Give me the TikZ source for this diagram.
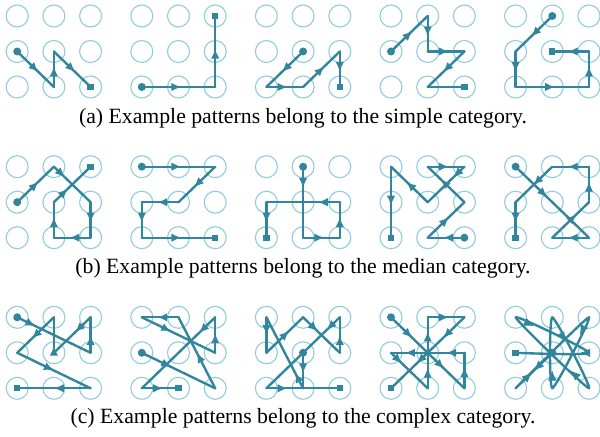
\documentclass[tikz,border=0pt]{standalone}
\usepackage{fontspec}
\setmainfont{Liberation Serif}
\usetikzlibrary{arrows.meta,decorations.markings}
\definecolor{ringblue}{HTML}{92CDDC}
\definecolor{pathteal}{HTML}{31859C}

\tikzset{
  ring/.style={circle, draw=ringblue, line width=0.45pt, minimum size=8.8pt, inner sep=0pt},
  pline/.style={draw=pathteal, line width=0.95pt, line cap=round, line join=round},
  tipat/.style={postaction={decorate}, decoration={markings,
    mark=at position #1 with {\arrow[pathteal]{Latex[length=4pt,width=3.4pt]}}}},
  tipat/.default=0.58,
  startdot/.style={circle, fill=pathteal, inner sep=0pt, minimum size=3.2pt},
  endbox/.style={rectangle, fill=pathteal, inner sep=0pt, minimum size=2.5pt},
  capt/.style={font=\fontsize{8.7}{10}\selectfont, inner sep=0pt}
}

\begin{document}
\begin{tikzpicture}[x=0.4pt, y=-0.4pt]
\useasboundingbox (0,0) rectangle (600,437);

% the 3x3 rings of every pattern
\foreach \k/\y in {a/16, b/166.7, c/317.3} {
  \foreach \i in {1,...,5} {
    \foreach \c in {0,1,2} {
      \foreach \r in {0,1,2} {
        \node[ring] (\k\i-\c\r) at ({17.2+124.6*(\i-1)+36.7*\c}, {\y+35.5*\r}) {};
      }
    }
  }
}

% a1
\draw[pline, tipat] (a1-01.center) -- (a1-12.center);
\draw[pline, tipat] (a1-12.center) -- (a1-11.center);
\draw[pline, tipat] (a1-11.center) -- (a1-22.center);
\node[startdot] (a1-s) at (a1-01) {};
\node[endbox] (a1-e) at (a1-22) {};
% a2
\draw[pline, tipat=0.54] (a2-02.center) -- (a2-22.center);
\draw[pline, tipat=0.54] (a2-22.center) -- (a2-20.center);
\node[startdot] (a2-s) at (a2-02) {};
\node[endbox] (a2-e) at (a2-20) {};
% a3
\draw[pline, tipat] (a3-11.center) -- (a3-02.center);
\draw[pline, tipat] (a3-02.center) -- (a3-12.center);
\draw[pline, tipat] (a3-12.center) -- (a3-21.center);
\draw[pline, tipat] (a3-21.center) -- (a3-22.center);
\node[startdot] (a3-s) at (a3-11) {};
\node[endbox] (a3-e) at (a3-22) {};
% a4
\draw[pline, tipat] (a4-01.center) -- (a4-10.center);
\draw[pline, tipat] (a4-10.center) -- (a4-11.center);
\draw[pline, tipat] (a4-11.center) -- (a4-21.center);
\draw[pline, tipat] (a4-21.center) -- (a4-12.center);
\draw[pline] (a4-12.center) -- (a4-22.center);
\node[startdot] (a4-s) at (a4-01) {};
\node[endbox] (a4-e) at (a4-22) {};
% a5
\draw[pline, tipat] (a5-10.center) -- (a5-01.center);
\draw[pline, tipat] (a5-01.center) -- (a5-02.center);
\draw[pline, tipat=0.54] (a5-02.center) -- (a5-22.center);
\draw[pline, tipat] (a5-22.center) -- (a5-21.center);
\draw[pline, tipat] (a5-21.center) -- (a5-11.center);
\node[startdot] (a5-s) at (a5-10) {};
\node[endbox] (a5-e) at (a5-11) {};

% b1
\draw[pline, tipat] (b1-01.center) -- (b1-10.center);
\draw[pline, tipat=0.3] (b1-10.center) -- (b1-21.center);
\draw[pline, tipat] (b1-21.center) -- (b1-22.center);
\draw[pline, tipat] (b1-22.center) -- (b1-12.center);
\draw[pline, tipat] (b1-12.center) -- (b1-11.center);
\draw[pline, tipat=0.38] (b1-11.center) -- (b1-20.center);
\node[startdot] (b1-s) at (b1-01) {};
\node[endbox] (b1-e) at (b1-20) {};
% b2
\draw[pline, tipat=0.54] (b2-00.center) -- (b2-20.center);
\draw[pline, tipat] (b2-20.center) -- (b2-11.center);
\draw[pline, tipat] (b2-11.center) -- (b2-01.center);
\draw[pline, tipat] (b2-01.center) -- (b2-02.center);
\draw[pline, tipat=0.54] (b2-02.center) -- (b2-22.center);
\node[startdot] (b2-s) at (b2-00) {};
\node[endbox] (b2-e) at (b2-22) {};
% b3
\draw[pline, tipat=0.3] (b3-10.center) -- (b3-12.center);
\draw[pline, tipat] (b3-12.center) -- (b3-22.center);
\draw[pline, tipat] (b3-22.center) -- (b3-21.center);
\draw[pline, tipat=0.3] (b3-21.center) -- (b3-01.center);
\draw[pline, tipat] (b3-01.center) -- (b3-02.center);
\node[startdot] (b3-s) at (b3-10) {};
\node[endbox] (b3-e) at (b3-02) {};
% b4
\draw[pline, tipat] (b4-22.center) -- (b4-12.center);
\draw[pline, tipat] (b4-12.center) -- (b4-21.center);
\draw[pline, tipat=0.65] (b4-21.center) -- (b4-10.center);
\draw[pline, tipat] (b4-10.center) -- (b4-20.center);
\draw[pline, tipat=0.3] (b4-20.center) -- (b4-11.center);
\draw[pline, tipat] (b4-11.center) -- (b4-00.center);
\draw[pline, tipat=0.55] (b4-00.center) -- (b4-02.center);
\node[startdot] (b4-s) at (b4-22) {};
\node[endbox] (b4-e) at (b4-02) {};
% b5
\draw[pline, tipat=0.43] (b5-00.center) -- (b5-22.center);
\draw[pline, tipat] (b5-22.center) -- (b5-12.center);
\draw[pline, tipat=0.66] (b5-12.center) -- (b5-21.center);
\draw[pline, tipat] (b5-21.center) -- (b5-20.center);
\draw[pline, tipat] (b5-20.center) -- (b5-10.center);
\draw[pline, tipat=0.52] (b5-10.center) -- (b5-01.center);
\draw[pline, tipat] (b5-01.center) -- (b5-02.center);
\node[startdot] (b5-s) at (b5-00) {};
\node[endbox] (b5-e) at (b5-02) {};

% c1
\draw[pline, tipat=0.25] (c1-00.center) -- (c1-21.center);
\draw[pline, tipat=0.5] (c1-21.center) -- (c1-20.center);
\draw[pline, tipat=0.42] (c1-20.center) -- (c1-11.center);
\draw[pline, tipat=0.2] (c1-11.center) -- (c1-10.center);
\draw[pline, tipat=0.6] (c1-10.center) -- (c1-01.center);
\draw[pline, tipat=0.5] (c1-01.center) -- (c1-22.center);
\draw[pline, tipat=0.5] (c1-22.center) -- (c1-02.center);
\node[startdot] (c1-s) at (c1-00) {};
\node[endbox] (c1-e) at (c1-02) {};
% c2
\draw[pline, tipat=0.4] (c2-01.center) -- (c2-22.center);
\draw[pline, tipat=0.5] (c2-22.center) -- (c2-10.center);
\draw[pline, tipat] (c2-10.center) -- (c2-00.center);
\draw[pline, tipat=0.4] (c2-00.center) -- (c2-21.center);
\draw[pline, tipat=0.55] (c2-21.center) -- (c2-20.center);
\draw[pline, tipat=0.22] (c2-20.center) -- (c2-02.center);
\draw[pline, tipat] (c2-02.center) -- (c2-12.center);
\node[startdot] (c2-s) at (c2-01) {};
\node[endbox] (c2-e) at (c2-12) {};
% c3
\draw[pline, tipat] (c3-11.center) -- (c3-12.center);
\draw[pline, tipat=0.22] (c3-12.center) -- (c3-00.center);
\draw[pline, tipat=0.5] (c3-00.center) -- (c3-01.center);
\draw[pline, tipat=0.62] (c3-01.center) -- (c3-10.center);
\draw[pline, tipat=0.4] (c3-10.center) -- (c3-21.center);
\draw[pline, tipat=0.5] (c3-21.center) -- (c3-20.center);
\draw[pline, tipat=0.18] (c3-20.center) -- (c3-02.center);
\draw[pline, tipat] (c3-02.center) -- (c3-12.center);
\draw[pline] (c3-12.center) -- (c3-22.center);
\node[startdot] (c3-s) at (c3-11) {};
\node[endbox] (c3-e) at (c3-22) {};
% c4
\draw[pline, tipat] (c4-00.center) -- (c4-11.center);
\draw[pline, tipat=0.45] (c4-11.center) -- (c4-22.center);
\draw[pline, tipat=0.6] (c4-22.center) -- (c4-21.center);
\draw[pline, tipat=0.5] (c4-21.center) -- (c4-11.center);
\draw[pline, tipat=0.62] (c4-11.center) -- (c4-01.center);
\draw[pline, tipat=0.3] (c4-01.center) -- (c4-12.center);
\draw[pline, tipat] (c4-12.center) -- (c4-11.center);
\draw[pline, tipat=0.6] (c4-11.center) -- (c4-10.center);
\draw[pline, tipat] (c4-10.center) -- (c4-20.center);
\draw[pline, tipat] (c4-20.center) -- (c4-11.center);
\draw[pline, tipat=0.3] (c4-11.center) -- (c4-02.center);
\node[startdot] (c4-s) at (c4-00) {};
\node[endbox] (c4-e) at (c4-02) {};
% c5
\draw[pline] plot[smooth, tension=0.3] coordinates {(c5-11.center) (c5-02.center)
  (c5-20.center) (c5-12.center) (c5-10.center) (c5-22.center) (c5-00.center)
  (c5-21.center) (c5-01.center)};
\path[tipat=0.5] (c5-11.center) -- (c5-02.center);
\path[tipat=0.22] (c5-02.center) -- (c5-20.center);
\path[tipat=0.25] (c5-20.center) -- (c5-12.center);
\path[tipat=0.25] (c5-12.center) -- (c5-10.center);
\path[tipat=0.35] (c5-10.center) -- (c5-22.center);
\path[tipat=0.25] (c5-22.center) -- (c5-00.center);
\path[tipat=0.25] (c5-00.center) -- (c5-21.center);
\path[tipat=0.12] (c5-21.center) -- (c5-01.center);
\node[startdot] (c5-s) at (c5-11) {};
\node[endbox] (c5-e) at (c5-01) {};

% captions
\node[capt] (capa) at (303,118) {(a) Example patterns belong to the simple category.};
\node[capt] (capb) at (303,268) {(b) Example patterns belong to the median category.};
\node[capt] (capc) at (303,418) {(c) Example patterns belong to the complex category.};
\end{tikzpicture}
\end{document}
